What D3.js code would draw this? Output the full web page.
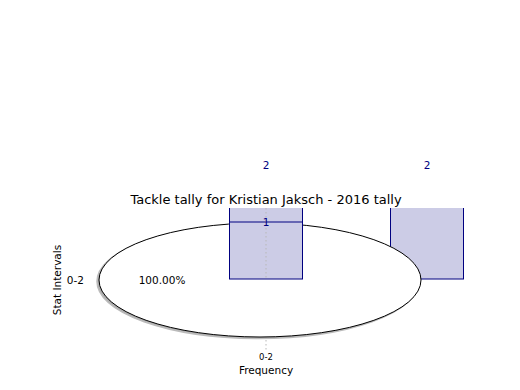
<!DOCTYPE html>
<html><head><meta charset="utf-8">
<script src="https://cdn.jsdelivr.net/npm/d3@7"></script>
<style>body{margin:0;background:#fff}svg{display:block}text{font-family:"DejaVu Sans",sans-serif}</style>
</head><body><svg id="c" width="520" height="390"></svg>
<script>
const title = "Tackle tally for Kristian Jaksch - 2016 tally";
const intervals = ["0-2"];
const pieValues = [1];
const pieLabels = ["100.00%"];
const barSlots = ["s0", "s1"];
const barValues = [2, 2];
const overlayValues = [1];
const xLabel = "Frequency";
const yLabel = "Stat Intervals";

const svg = d3.select("#c");
const x = d3.scalePoint().domain(barSlots).range([266, 427]);
const y = d3.scaleLinear().domain([0, 2]).range([279, 165]);
const yCat = d3.scalePoint().domain(intervals).range([280, 280]);
const barW = 73;

svg.append("defs").append("clipPath").attr("id", "ax")
  .append("rect").attr("x", 0).attr("y", 208).attr("width", 520).attr("height", 142);

const plot = svg.append("g").attr("clip-path", "url(#ax)");

// gridline
plot.append("line").attr("x1", x("s0")).attr("x2", x("s0")).attr("y1", 208).attr("y2", 350)
  .attr("stroke", "#b8b8b8").attr("stroke-width", 1).attr("stroke-dasharray", "1.5,2.5");

function drawBar(g, i, v) {
  g.append("rect").attr("x", x(barSlots[i]) - barW / 2).attr("y", y(v))
    .attr("width", barW).attr("height", y(0) - y(v))
    .attr("fill", "#ccccE6").attr("stroke", "#000080").attr("stroke-width", 1);
}
// second bar (behind pie)
drawBar(plot, 1, barValues[1]);

// pie as ellipse
const pie = d3.pie().sort(null)(pieValues);
const arc = d3.arc().innerRadius(0).outerRadius(1);
const cx = 260, cy = yCat(intervals[0]), rx = 161, ry = 57;
const pg = plot.append("g");
pg.selectAll("path.sh").data(pie).join("path")
  .attr("transform", `translate(${cx - 2},${cy + 1.5}) scale(${rx},${ry})`)
  .attr("d", arc).attr("fill", "#999").attr("fill-opacity", 0.8)
  .attr("stroke", "#bbb").attr("stroke-width", 1.5)
  .attr("vector-effect", "non-scaling-stroke");
pg.selectAll("path.sl").data(pie).join("path")
  .attr("transform", `translate(${cx},${cy}) scale(${rx},${ry})`)
  .attr("d", arc).attr("fill", "#fff").attr("stroke", "#000").attr("stroke-width", 1)
  .attr("vector-effect", "non-scaling-stroke");

// first bar + overlay (in front)
drawBar(plot, 0, barValues[0]);
overlayValues.forEach((v, i) => {
  plot.append("line").attr("x1", x(barSlots[i]) - barW / 2).attr("x2", x(barSlots[i]) + barW / 2)
    .attr("y1", y(v)).attr("y2", y(v)).attr("stroke", "#000080").attr("stroke-width", 1.2);
});
plot.append("line").attr("x1", x("s0")).attr("x2", x("s0")).attr("y1", 208).attr("y2", 279)
  .attr("stroke", "#b8b8b8").attr("stroke-width", 1).attr("stroke-dasharray", "1.5,2.5");

// labels
barValues.forEach((v, i) => {
  svg.append("text").attr("x", x(barSlots[i])).attr("y", y(v)).attr("dy", "0.35em")
    .attr("text-anchor", "middle").attr("font-size", 10.5).attr("fill", "#000080").text(v);
});
overlayValues.forEach((v, i) => {
  svg.append("text").attr("x", x(barSlots[i])).attr("y", y(v)).attr("dy", "0.35em")
    .attr("text-anchor", "middle").attr("font-size", 10.5).attr("fill", "#000080").text(v);
});
pieLabels.forEach((t) => {
  svg.append("text").attr("x", 162).attr("y", cy).attr("dy", "0.35em")
    .attr("text-anchor", "middle").attr("font-size", 10.5).attr("fill", "#000").text(t);
});

// title
svg.append("text").attr("x", 266).attr("y", 204).attr("text-anchor", "middle")
  .attr("font-size", 13).attr("fill", "#000").text(title);

// axes texts
svg.append("text").attr("x", x("s0")).attr("y", 357).attr("dy", "0.35em")
  .attr("text-anchor", "middle").attr("font-size", 8.5).attr("fill", "#000").text(intervals[0]);
svg.append("text").attr("x", 266).attr("y", 370).attr("dy", "0.35em")
  .attr("text-anchor", "middle").attr("font-size", 10.5).attr("fill", "#000").text(xLabel);
intervals.forEach(t => {
  svg.append("text").attr("x", 84).attr("y", yCat(t)).attr("dy", "0.35em")
    .attr("text-anchor", "end").attr("font-size", 10.5).attr("fill", "#000").text(t);
});
svg.append("text").attr("transform", "translate(57,280) rotate(-90)").attr("dy", "0.35em")
  .attr("text-anchor", "middle").attr("font-size", 10.5).attr("fill", "#000").text(yLabel);
</script></body></html>
